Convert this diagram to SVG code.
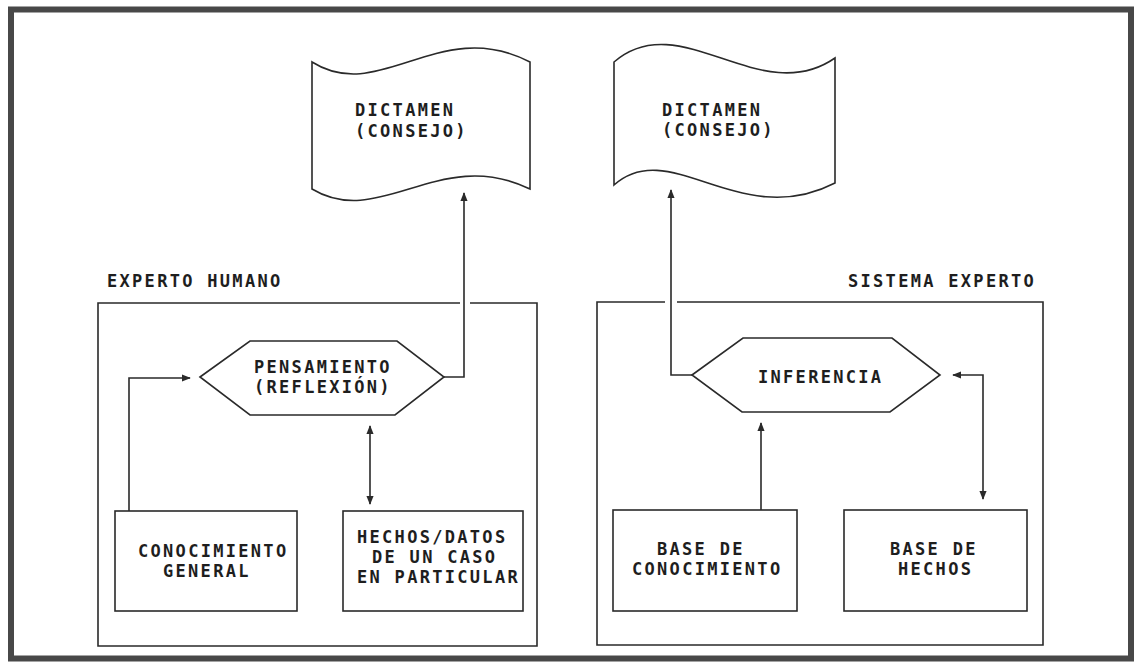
<svg xmlns="http://www.w3.org/2000/svg" width="1137" height="664" viewBox="0 0 1137 664">
<style>
.ln{fill:none;stroke:#2a2a2a;stroke-width:1.6}
.sh{fill:#fff;stroke:#2a2a2a;stroke-width:1.6}
.t{font-family:"DejaVu Sans Mono","Liberation Mono",monospace;font-weight:bold;font-size:17px;letter-spacing:2.3px;fill:#1e1e1e}
</style>
<defs>
<marker id="ah" viewBox="0 0 10 10" refX="9" refY="5" markerWidth="9" markerHeight="9" markerUnits="userSpaceOnUse" orient="auto-start-reverse">
<path d="M0,1 L10,5 L0,9 Z" fill="#2a2a2a"/>
</marker>
</defs>
<rect x="0" y="0" width="1137" height="664" fill="#fff"/>
<rect x="11" y="9.5" width="1120" height="649" fill="none" stroke="#484848" stroke-width="6"/>

<g id="experto-humano">
<path class="ln" d="M460,303 H98 V646 H537 V303 H470"/>
<text class="t" x="107" y="287">EXPERTO HUMANO</text>
</g>
<g id="sistema-experto">
<path class="ln" d="M665,302 H597 V645 H1043 V302 H677"/>
<text class="t" x="848" y="287">SISTEMA EXPERTO</text>
</g>

<g id="dictamen-1">
<path class="sh" d="M312,62 C380,105 440,15 530,62 V189 C440,145 380,230 312,189 Z"/>
<text class="t" x="355" y="116">DICTAMEN</text>
<text class="t" x="355" y="137">(CONSEJO)</text>
</g>
<g id="dictamen-2">
<path class="sh" d="M614,62 C680,5 760,110 835,58 V183 C740,232 670,135 614,185 Z"/>
<text class="t" x="662" y="116">DICTAMEN</text>
<text class="t" x="662" y="136">(CONSEJO)</text>
</g>

<g id="pensamiento">
<polygon class="sh" points="200,377 250,341 397,341 444,377 395,415 250,415"/>
<text class="t" x="254" y="373">PENSAMIENTO</text>
<text class="t" x="254" y="393">(REFLEXIÓN)</text>
</g>
<g id="inferencia">
<polygon class="sh" points="692,375 743,338 892,338 940,375 890,412 742,412"/>
<text class="t" x="758" y="383">INFERENCIA</text>
</g>

<g id="conocimiento-general">
<rect class="sh" x="115" y="511" width="182" height="100"/>
<text class="t" x="138" y="557">CONOCIMIENTO</text>
<text class="t" x="163" y="577">GENERAL</text>
</g>
<g id="hechos-datos">
<rect class="sh" x="343" y="511" width="180" height="100"/>
<text class="t" x="357" y="543">HECHOS/DATOS</text>
<text class="t" x="372" y="563">DE UN CASO</text>
<text class="t" x="357" y="583">EN PARTICULAR</text>
</g>
<g id="base-conocimiento">
<rect class="sh" x="613" y="510" width="184" height="101"/>
<text class="t" x="657" y="555">BASE DE</text>
<text class="t" x="632" y="575">CONOCIMIENTO</text>
</g>
<g id="base-hechos">
<rect class="sh" x="844" y="510" width="183" height="101"/>
<text class="t" x="890" y="555">BASE DE</text>
<text class="t" x="898" y="575">HECHOS</text>
</g>

<g id="connectors">
<path class="ln" d="M444,377 H464 V193" marker-end="url(#ah)"/>
<path class="ln" d="M692,375 H671 V190" marker-end="url(#ah)"/>
<path class="ln" d="M129,511 V378 H190" marker-end="url(#ah)"/>
<path class="ln" d="M370,426 V504" marker-start="url(#ah)" marker-end="url(#ah)"/>
<path class="ln" d="M761,510 V423" marker-end="url(#ah)"/>
<path class="ln" d="M953,375 H983 V499" marker-start="url(#ah)" marker-end="url(#ah)"/>
</g>
</svg>
